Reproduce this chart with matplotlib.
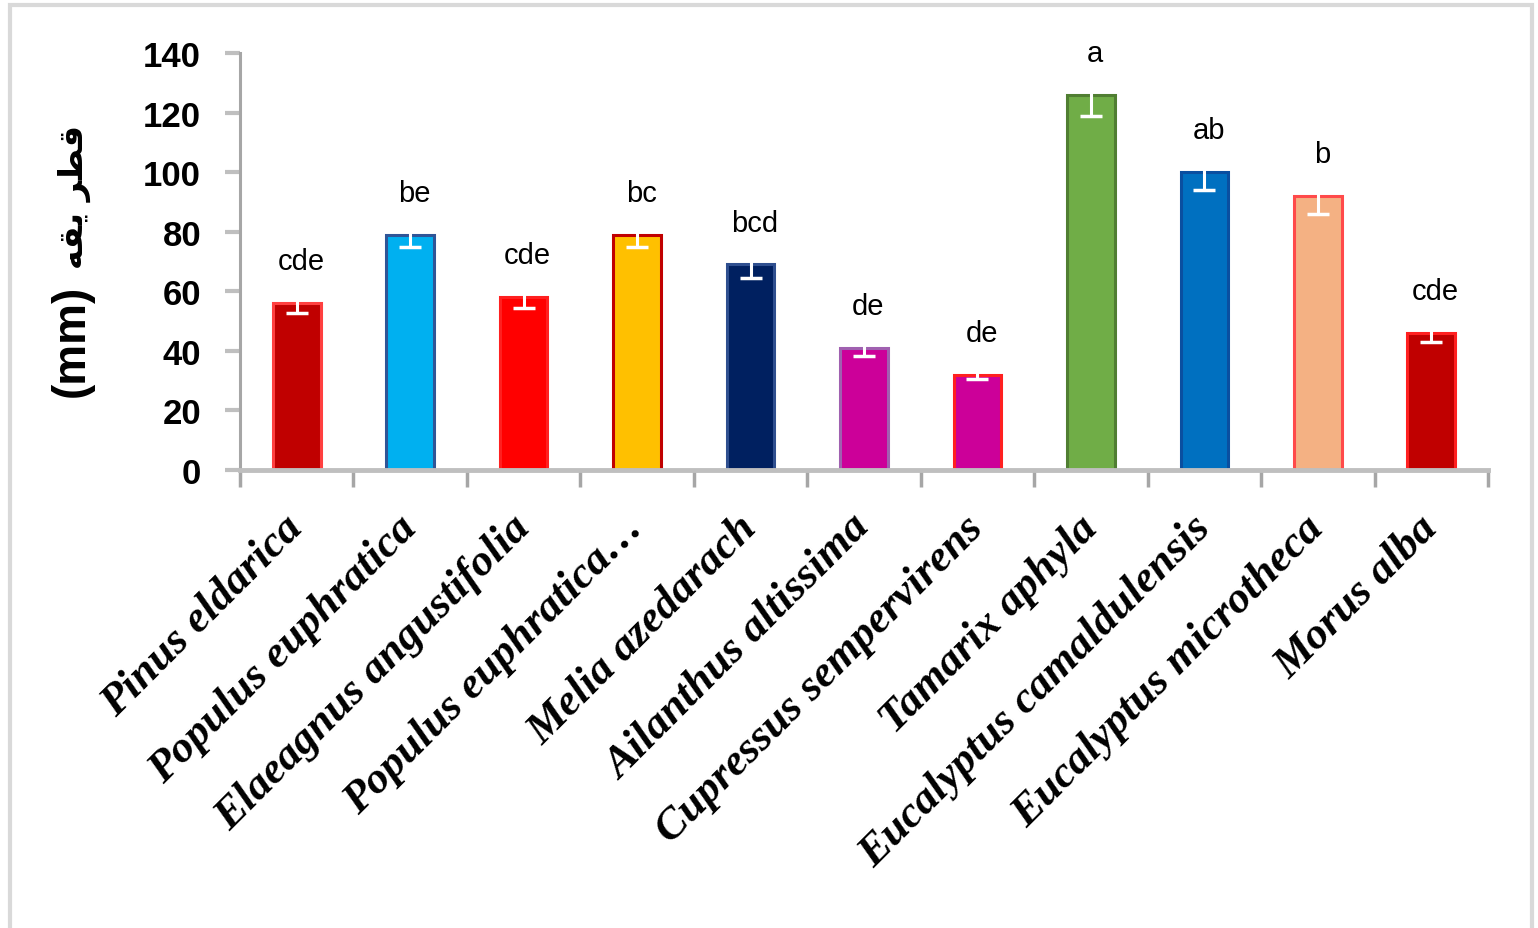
import matplotlib
matplotlib.use("Agg")
import matplotlib.pyplot as plt
from matplotlib.patches import Rectangle
from matplotlib.transforms import ScaledTranslation
import numpy as np

# Species and measured collar diameter (mm) with standard error
species = [
    "Pinus eldarica",
    "Populus euphratica",
    "Elaeagnus angustifolia",
    "Populus euphratica…",
    "Melia azedarach",
    "Ailanthus altissima",
    "Cupressus sempervirens",
    "Tamarix aphyla",
    "Eucalyptus camaldulensis",
    "Eucalyptus microtheca",
    "Morus alba",
]
diameter = [56, 79, 58, 79, 69, 41, 32, 126, 100, 92, 46]
std_err = [3.3, 4.0, 3.7, 4.0, 4.4, 2.7, 1.3, 7.0, 6.0, 6.0, 3.0]
groups = ["cde", "be", "cde", "bc", "bcd", "de", "de", "a", "ab", "b", "cde"]

face_colors = ["#C00000", "#00B0F0", "#FF0000", "#FFC000", "#002060", "#CC0099",
               "#CC0099", "#70AD47", "#0070C0", "#F4B183", "#C00000"]
edge_colors = ["#FF4040", "#2F5597", "#FF2020", "#C00000", "#2F4F8F", "#A060B0",
               "#FF2020", "#507E32", "#0A4FA0", "#FF4A4A", "#FF2020"]

y_ticks = [0, 20, 40, 60, 80, 100, 120, 140]

fig = plt.figure(figsize=(15.38, 9.29), dpi=100)
ax = fig.add_axes([240 / 1538, 1 - 471 / 929, (1488 - 240) / 1538, (471 - 54) / 929])

x = np.arange(len(species))
ax.bar(x, diameter, width=0.42, color=face_colors, edgecolor=edge_colors,
       linewidth=2.2, zorder=2)
ax.errorbar(x, diameter, yerr=std_err, fmt="none", ecolor="white",
            elinewidth=2.2, capsize=8, capthick=2.5, zorder=3)

for xi, v, g in zip(x, diameter, groups):
    ax.annotate(g, (xi, v), xytext=(3, 20), textcoords="offset points",
                ha="center", va="bottom", fontsize=21,
                family="Liberation Sans", color="black")

ax.set_xlim(-0.5, len(species) - 0.5)
ax.set_ylim(0, 140)
ax.set_yticks(y_ticks)
ax.set_yticklabels([str(t) for t in y_ticks], fontsize=25, fontweight="bold",
                   family="Liberation Sans")

ax.set_xticks(x)
ax.set_xticklabels(species, rotation=45, ha="right", va="center",
                   rotation_mode="anchor", fontsize=32, fontweight="bold",
                   fontstyle="italic", family="Liberation Serif")
shift = ScaledTranslation(9 / 100, 0, fig.dpi_scale_trans)
for lbl in ax.get_xticklabels():
    lbl.set_transform(lbl.get_transform() + shift)
ax.set_xticks(np.arange(-0.5, len(species)), minor=True)
ax.tick_params(axis="x", which="major", length=0, pad=37)
ax.tick_params(axis="x", which="minor", length=12, width=2.5, color="#A6A6A6",
               direction="out")
ax.tick_params(axis="y", length=11, width=3, color="#BFBFBF", direction="out",
               pad=17)

for side in ("top", "right"):
    ax.spines[side].set_visible(False)
ax.spines["left"].set_color("#A6A6A6")
ax.spines["left"].set_linewidth(2.2)
ax.spines["bottom"].set_color("#BFBFBF")
ax.spines["bottom"].set_linewidth(3.5)

# Axis title "قطر یقه (mm)": unit part and Persian word (presentation forms, visual order)
fig.text(72 / 1538, 1 - 341 / 929, "(mm)", rotation=90, ha="center", va="center",
         fontsize=33, fontweight="bold", family="Liberation Sans")
fig.text(74 / 1538, 1 - 197 / 929, "\uFEEA\uFED8\uFEF3" + " " + "\uFEAE\uFEC4\uFED7",
         rotation=90, ha="center", va="center", fontsize=24, fontweight="bold",
         family="DejaVu Sans")

# Light frame around the chart area
fig.patches.append(Rectangle((10 / 1538, -0.05), 1522 / 1538, 1.05 - 6 / 929,
                             transform=fig.transFigure, fill=False,
                             edgecolor="#D9D9D9", linewidth=3))

fig.savefig("out.png", dpi=100, facecolor="white")
